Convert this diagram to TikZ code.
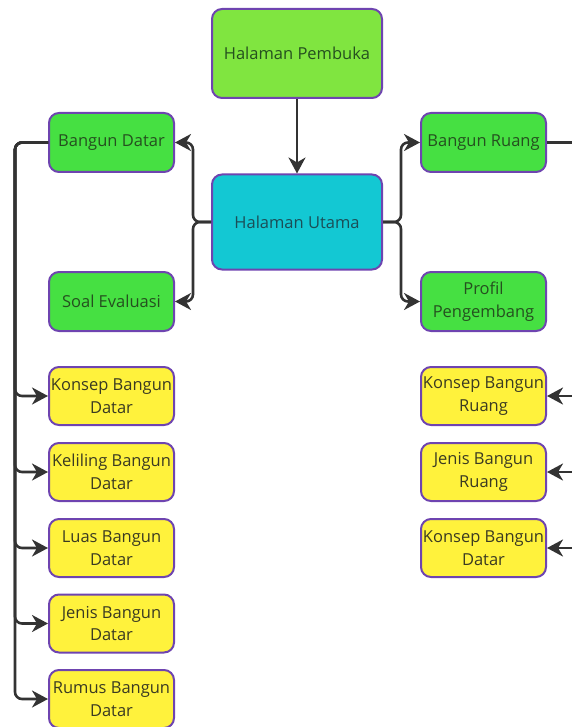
\documentclass[tikz,border=0pt]{standalone}
\usepackage{fontspec}
\setmainfont{Open Sans}
\usetikzlibrary{arrows.meta}
\definecolor{bordc}{HTML}{6E44B0}
\definecolor{lightgreen}{HTML}{80E540}
\definecolor{boxgreen}{HTML}{46E042}
\definecolor{boxcyan}{HTML}{13C8D3}
\definecolor{boxyellow}{HTML}{FFF23C}
\definecolor{linec}{HTML}{333333}
\definecolor{txtgreen}{HTML}{25501F}
\definecolor{txtcyan}{HTML}{1B4E57}
\definecolor{txtyellow}{HTML}{3A3A22}
\begin{document}
\begin{tikzpicture}[x=1pt,y=-1pt,
  box/.style={draw=bordc, line width=2pt, rounded corners=10pt, align=center,
    font=\fontsize{16.5}{22.5}\selectfont, inner sep=0pt},
  smallbox/.style={box, minimum width=125pt, minimum height=59pt},
  greenbox/.style={smallbox, fill=boxgreen, text=txtgreen},
  yellowbox/.style={smallbox, fill=boxyellow, text=txtyellow, minimum height=58pt},
  conn/.style={draw=linec, line width=2.6pt, rounded corners=7pt},
  arr/.style={conn, -{Stealth[length=16pt,width=17pt,inset=5pt]}}]
\useasboundingbox (0,0) rectangle (571,727);

\node[box, fill=lightgreen, text=txtgreen, minimum width=170pt, minimum height=89pt] (pembuka) at (297,53.5) {Halaman Pembuka};
\node[box, fill=boxcyan, text=txtcyan, minimum width=170pt, minimum height=95pt] (utama) at (297,222) {Halaman Utama};

\node[greenbox] (datar) at (111.5,142.5) {Bangun Datar};
\node[greenbox] (soal) at (111.5,301.5) {Soal Evaluasi};
\node[greenbox] (ruang) at (483.5,142.5) {Bangun Ruang};
\node[greenbox] (profil) at (483.5,301.5) {Profil\\Pengembang};

\node[yellowbox] (kbd) at (111.5,396) {Konsep Bangun\\Datar};
\node[yellowbox] (kel) at (111.5,472) {Keliling Bangun\\Datar};
\node[yellowbox] (luas) at (111.5,548) {Luas Bangun\\Datar};
\node[yellowbox] (jbd) at (111.5,623.5) {Jenis Bangun\\Datar};
\node[yellowbox] (rumus) at (111.5,699) {Rumus Bangun\\Datar};

\node[yellowbox] (kbr) at (483.5,396) {Konsep Bangun\\Ruang};
\node[yellowbox] (jbr) at (483.5,472) {Jenis Bangun\\Ruang};
\node[yellowbox] (kbd2) at (483.5,548) {Konsep Bangun\\Datar};

\coordinate (lbranch) at (193,222);
\coordinate (rbranch) at (401,222);
\coordinate (lrail) at (15,142.5);
\coordinate (rrail) at (572,142.5);
\coordinate (r1) at (572,396);
\coordinate (r2) at (572,472);
\coordinate (r3) at (572,548);

\draw[arr] (pembuka) -- (utama);

\draw[arr] (utama.west) -- (lbranch) |- (datar.east);
\draw[arr] (utama.west) -- (lbranch) |- (soal.east);
\draw[arr] (utama.east) -- (rbranch) |- (ruang.west);
\draw[arr] (utama.east) -- (rbranch) |- (profil.west);

\foreach \b in {kbd,kel,luas,jbd,rumus}
  \draw[arr] (datar.west) -- (lrail) |- (\b.west);

\draw[conn] (ruang.east) -- (rrail);
\draw[arr] (r1) -- (kbr.east);
\draw[arr] (r2) -- (jbr.east);
\draw[arr] (r3) -- (kbd2.east);
\end{tikzpicture}
\end{document}
